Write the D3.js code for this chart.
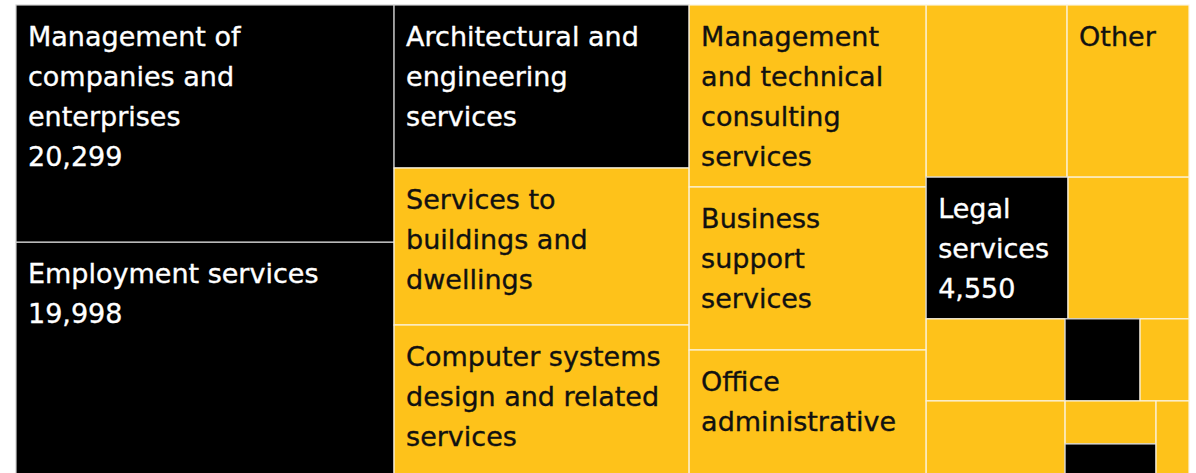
<!DOCTYPE html>
<html><head><meta charset="utf-8">
<script src="https://cdn.jsdelivr.net/npm/d3@7"></script>
<style>html,body{margin:0;padding:0;background:#fff;overflow:hidden}</style>
</head><body><svg id="chart" width="1196" height="473"></svg>
<script>
// Categories (label lines separated by "|"; "" = unlabeled cell)
const names = [
  "Management of|companies and|enterprises",
  "Employment services",
  "Architectural and|engineering|services",
  "Services to|buildings and|dwellings",
  "Computer systems|design and related|services",
  "Management|and technical|consulting|services",
  "Business|support|services",
  "Office|administrative",
  "",
  "Other",
  "Legal|services",
  "", "", "", "", "", "", "", ""
];
// Values
const values = [20299, 19998, 10884, 10483, 10082, 9763, 8744, 6759, 5489, 4750, 4550, 3880, 2580, 2360, 1392, 909, 886, 659, 560];
// Highlighted (dark) categories
const highlighted = [true, true, true, false, false, false, false, false, false, false, true, false, false, false, true, false, false, true, false];

const fmt = d3.format(",");
const offX = 16, offY = 5, tmW = 1173, tmH = 471;
const YELLOW = "#FEC21A", DARK = "#000000";

const data = {children: names.map((n, i) => ({name: n, value: values[i], dark: highlighted[i]}))};
const root = d3.hierarchy(data).sum(d => d.value || 0).sort((a, b) => b.value - a.value);
d3.treemap().size([tmW, tmH]).tile(d3.treemapSquarify)(root);

const svg = d3.select("#chart");
const g = svg.append("g").attr("transform", `translate(${offX},${offY})`);

const cell = g.selectAll("g.cell").data(root.leaves()).join("g")
  .attr("class", "cell")
  .attr("transform", d => `translate(${d.x0},${d.y0})`);

cell.append("rect")
  .attr("width", d => d.x1 - d.x0)
  .attr("height", d => d.y1 - d.y0)
  .attr("fill", d => d.data.dark ? DARK : YELLOW)
  .attr("stroke", d => d.data.dark ? "#cfcfcf" : "#fbf3df")
  .attr("stroke-width", 1.2);

const lineH = 40, firstBase = 41, padX = 12;
cell.each(function(d) {
  const h = d.y1 - d.y0;
  let lines = d.data.name ? d.data.name.split("|") : [];
  if (d.data.name && d.data.dark) lines.push(fmt(d.data.value));
  lines = lines.filter((l, i) => firstBase + i * lineH + 7 <= h);
  const col = d.data.dark ? "#ffffff" : "#111111";
  const t = d3.select(this).append("text")
    .attr("fill", col)
    .attr("stroke", col)
    .attr("stroke-width", 0.35)
    .attr("font-family", "'DejaVu Sans', sans-serif")
    .attr("font-size", 27);
  t.selectAll("tspan").data(lines).join("tspan")
    .attr("x", padX)
    .attr("y", (l, i) => firstBase + i * lineH)
    .text(l => l);
});
</script>
</body></html>
